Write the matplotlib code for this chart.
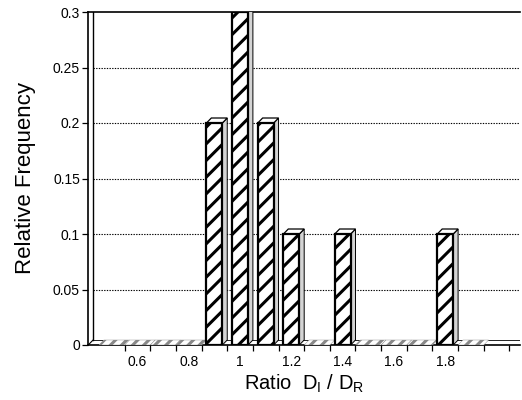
import matplotlib
matplotlib.use("Agg")
import matplotlib.pyplot as plt
import numpy as np

plt.rcParams['font.family'] = ['Liberation Sans', 'DejaVu Sans']
plt.rcParams['hatch.linewidth'] = 2.2

# data
ratio_bins = [0.5, 0.6, 0.7, 0.8, 0.9, 1.0, 1.1, 1.2, 1.3, 1.4, 1.5, 1.6, 1.7, 1.8, 1.9]
rel_freq = [0, 0, 0, 0, 0.2, 0.3, 0.2, 0.1, 0, 0.1, 0, 0, 0, 0.1, 0]
x_tick_vals = [0.6, 0.8, 1.0, 1.2, 1.4, 1.6, 1.8]
x_tick_labels = ['0.6', '0.8', '1', '1.2', '1.4', '1.6', '1.8']
y_tick_vals = [0, 0.05, 0.1, 0.15, 0.2, 0.25, 0.3]
y_tick_labels = ['0', '0.05', '0.1', '0.15', '0.2', '0.25', '0.3']

fig = plt.figure(figsize=(5.22, 4.0), dpi=100)
ax = fig.add_axes([0.169, 0.1375, 0.827, 0.8325])

xmin, xmax = 0.408, 2.091
ymin, ymax = 0.0, 0.3
ax.set_xlim(xmin, xmax)
ax.set_ylim(ymin, ymax)

dx = 0.019   # depth offset in x (data units)
dy = 0.0045  # depth offset in y
w = 0.062    # bar front width
binw = 0.1

# back wall and floor lines
ax.plot([xmin + dx, xmin + dx], [dy, ymax], color='black', lw=1.0, zorder=2)
ax.plot([xmin + dx, xmax], [dy, dy], color='black', lw=0.6, zorder=2)
ax.plot([xmin, xmin + dx], [0, dy], color='black', lw=0.8, zorder=2)

# dotted grid from back wall
for yv in y_tick_vals[1:-1]:
    ax.plot([xmin + dx, xmax], [yv, yv], color='black', lw=0.8,
            linestyle=(0, (1.2, 1.2)), zorder=1)

for xc, v in zip(ratio_bins, rel_freq):
    if v == 0:
        xs = [xc - binw / 2, xc + binw / 2, xc + binw / 2 + dx, xc - binw / 2 + dx]
        ys = [0, 0, dy, dy]
        ax.fill(xs, ys, facecolor='white', edgecolor='#888888', hatch='///',
                lw=0.3, zorder=3)
        continue
    left = xc - w / 2
    right = xc + w / 2
    # side (shadow) face
    ax.fill([right, right + dx, right + dx, right],
            [0, dy, v + dy, v],
            facecolor='#d4d4d4', edgecolor='black', lw=0.7, zorder=4)
    # top face
    ax.fill([left, right, right + dx, left + dx],
            [v, v, v + dy, v + dy],
            facecolor='white', edgecolor='black', lw=0.9, zorder=4)
    # front face
    ax.bar(xc, v, width=w, bottom=0, facecolor='white', edgecolor='black',
           hatch='//', lw=1.6, zorder=5)

ax.spines['right'].set_visible(False)
ax.spines['top'].set_linewidth(1.2)
ax.spines['left'].set_linewidth(1.2)
ax.spines['bottom'].set_linewidth(1.2)

ax.set_xticks(x_tick_vals)
ax.set_xticklabels(x_tick_labels, fontsize=10)
ax.set_xticks(np.arange(0.55, 2.06, 0.1), minor=True)
ax.tick_params(axis='x', which='major', length=0, pad=7)
ax.tick_params(axis='x', which='minor', length=4, width=0.9, direction='out')
ax.set_yticks(y_tick_vals)
ax.set_yticklabels(y_tick_labels, fontsize=10)
ax.tick_params(axis='y', which='major', length=4, width=0.9, direction='out', pad=2)

ax.set_xlabel(r'Ratio  D$_\mathregular{I}$ / D$_\mathregular{R}$', fontsize=14.5, labelpad=3)
ax.set_ylabel('Relative Frequency', fontsize=16, labelpad=12)

fig.savefig('out.png', dpi=100)
